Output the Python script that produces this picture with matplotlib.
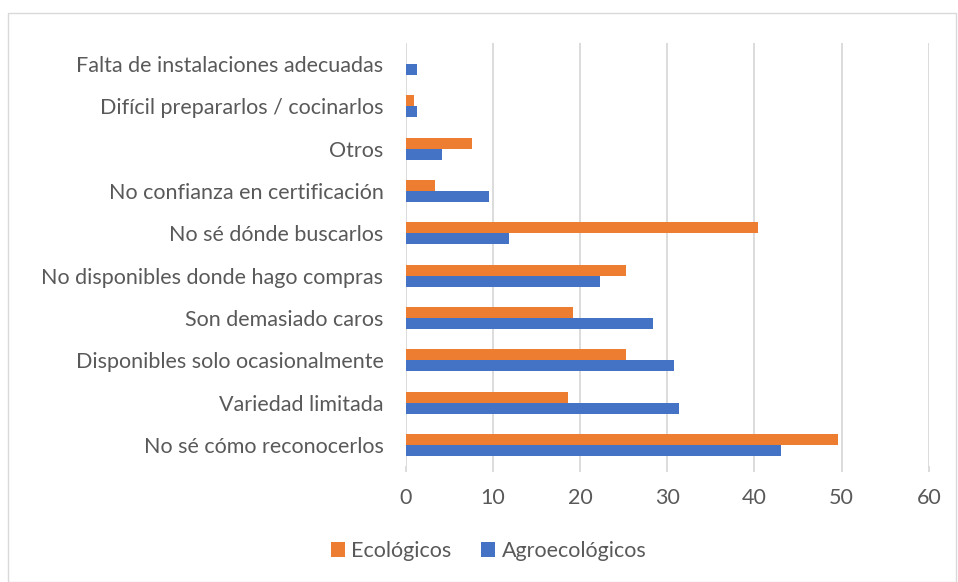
import matplotlib.pyplot as plt
import numpy as np
from matplotlib.patches import Rectangle

categorias = ["No sé cómo reconocerlos", "Variedad limitada",
              "Disponibles solo ocasionalmente", "Son demasiado caros",
              "No disponibles donde hago compras", "No sé dónde buscarlos",
              "No confianza en certificación", "Otros",
              "Difícil prepararlos / cocinarlos", "Falta de instalaciones adecuadas"]
ecologicos = [49.6, 18.6, 25.3, 19.2, 25.3, 40.4, 3.4, 7.6, 0.9, 0.0]
agroecologicos = [43.1, 31.3, 30.8, 28.4, 22.3, 11.8, 9.5, 4.2, 1.3, 1.3]
ticks_x = [0, 10, 20, 30, 40, 50, 60]

naranja = "#ED7D31"
azul = "#4472C4"
gris = "#595959"

plt.rcParams['font.family'] = ['Lato', 'DejaVu Sans']

fig = plt.figure(figsize=(9.58, 5.82), dpi=100)
ax = fig.add_axes([0.4235, 0.199, 0.546, 0.7275])

y = np.arange(len(categorias))
h = 0.26
ax.barh(y + h / 2, ecologicos, height=h, color=naranja, label="Ecológicos", zorder=3)
ax.barh(y - h / 2, agroecologicos, height=h, color=azul, label="Agroecológicos", zorder=3)

ax.set_xlim(0, 60)
ax.set_ylim(-0.5, len(categorias) - 0.5)
ax.set_xticks(ticks_x)
ax.set_yticks(y)
ax.set_yticklabels(categorias)
ax.grid(axis="x", color="#d9d9d9", lw=1.3, zorder=0)
for s in ax.spines.values():
    s.set_visible(False)
ax.tick_params(axis="y", length=0, pad=16, labelsize=15.5, labelcolor=gris)
ax.tick_params(axis="x", length=4, color="#d9d9d9", width=1.3, pad=12,
               labelsize=15.5, labelcolor=gris)

leg = fig.legend(loc="center", bbox_to_anchor=(0.51, 0.053), ncol=2, frameon=False,
                 fontsize=15.5, labelcolor=gris, handlelength=0.65, handleheight=0.65,
                 handletextpad=0.3, columnspacing=1.4)

# marco del gráfico
fig.patches.append(Rectangle((0.008, 0.0), 0.99, 0.978, transform=fig.transFigure,
                             fill=False, edgecolor="#d9d9d9", lw=1))

fig.savefig("out.png", dpi=100)
